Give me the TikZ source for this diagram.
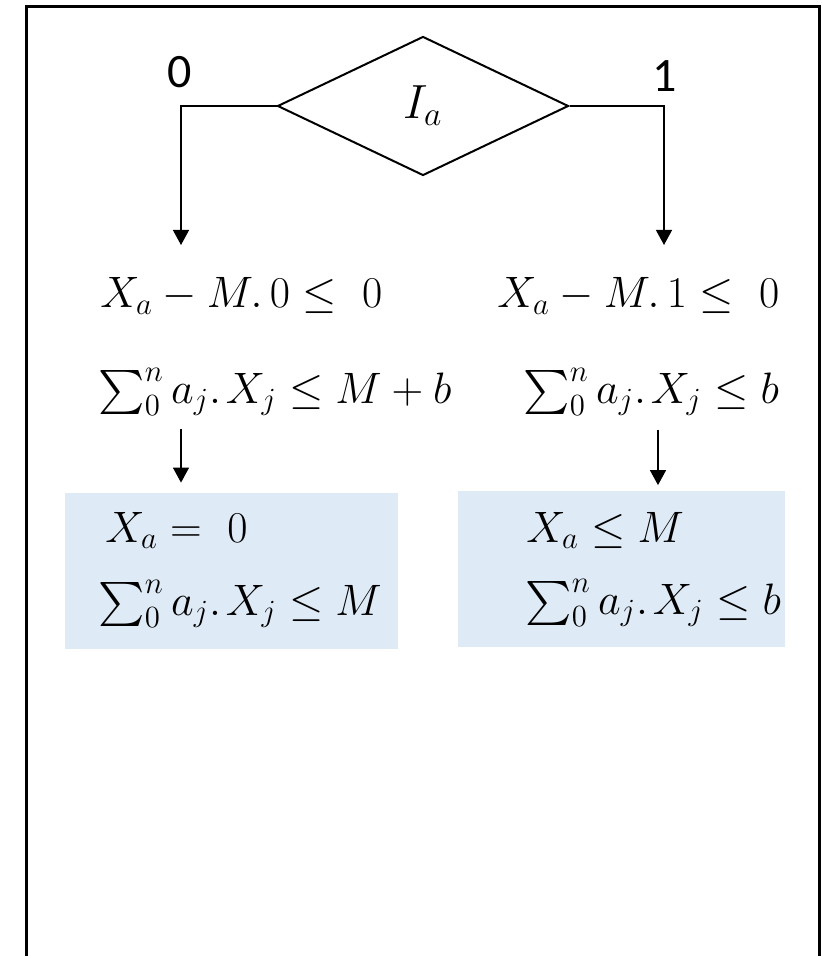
\RequirePackage{fix-cm}
\documentclass[tikz,border=0pt]{standalone}
\usepackage{amsmath,amssymb}
\usepackage{fontspec}
\newfontfamily\digitfont{Carlito}
\usepackage{tikz}
\usetikzlibrary{shapes.geometric,arrows.meta,positioning,calc}
\definecolor{gpanel}{HTML}{DEEAF6}
\definecolor{gink}{HTML}{000000}

\begin{document}
\begin{tikzpicture}[x=0.5pt,y=-0.5pt,
  font=\fontsize{22}{26}\selectfont,
  eq/.style={anchor=base west,inner sep=0pt},
  decision/.style={diamond,draw=gink,line width=1pt,minimum width=145.5pt,
                   minimum height=69.5pt,inner sep=0pt,font=\fontsize{24}{28}\selectfont},
  panel/.style={fill=gpanel,inner sep=0pt,minimum height=78pt},
  arr/.style={-{Triangle[width=8pt,length=7.5pt]},line width=0.65pt,gink},
  bit/.style={font=\digitfont\fontsize{24}{28}\selectfont}]
\useasboundingbox (0,0) rectangle (821,956);
\draw[line width=1.5pt] (26.5,962) -- (26.5,6.5) -- (819.5,6.5) -- (819.5,962);
% decision and its two branches
\node[decision] (dec) at (423,106) {$I_a$};
\coordinate (tipL) at (181,245);
\coordinate (tipR) at (664,245);
\draw[arr] (dec.west) -| (tipL);
\draw[arr] (dec.east) -| (tipR);
\node[bit] (b0) at (180,72) {0};
\node[bit] (b1) at (665,76) {1};
% constraints of each branch
\node[eq] (l1) at (100,308) {$X_a - M.\,0 \leq\ 0$};
\node[eq] (l2) at (98,403) {$\textstyle\sum_0^n a_j.\mspace{2mu}X_j \leq M + b$};
\node[eq] (r1) at (497,308) {$X_a - M.\,1 \leq\ 0$};
\node[eq] (r2) at (523,403) {$\textstyle\sum_0^n a_j.\mspace{2mu}X_j \leq b$};
% results
\node[panel,minimum width=166.5pt] (boxL) at (231.5,571) {};
\node[panel,minimum width=163.5pt] (boxR) at (621.5,568.5) {};
\node[eq] (bl1) at (105,542) {$X_a =\ 0$};
\node[eq] (bl2) at (98,615) {$\textstyle\sum_0^n a_j.\mspace{2mu}X_j \leq M$};
\node[eq] (br1) at (526,542) {$X_a \leq M$};
\node[eq] (br2) at (525,614) {$\textstyle\sum_0^n a_j.\mspace{2mu}X_j \leq b$};
\coordinate (sL) at (181,429);
\coordinate (sR) at (658,430);
\draw[arr,shorten >=5pt] (sL) -- (boxL.north -| sL);
\draw[arr,shorten >=2.5pt] (sR) -- (boxR.north -| sR);
\end{tikzpicture}
\end{document}
